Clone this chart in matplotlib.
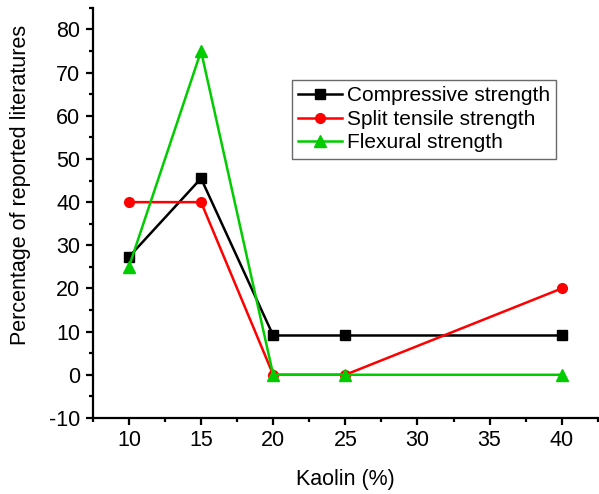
import matplotlib.pyplot as plt
from matplotlib.ticker import MultipleLocator

plt.rcParams['font.family'] = ['Liberation Sans', 'DejaVu Sans']
plt.rcParams['axes.unicode_minus'] = False

# Datos
kaolin = [10, 15, 20, 25, 40]
compresion = [27.3, 45.5, 9.1, 9.1, 9.1]
traccion = [40, 40, 0, 0, 20]
flexion = [25, 75, 0, 0, 0]

fig = plt.figure(figsize=(5.99, 4.94), dpi=100)
ax = fig.add_axes([0.155, 0.154, 0.843, 0.83])

ax.plot(kaolin, compresion, color='black', marker='s', markersize=6.5, lw=1.8, label='Compressive strength')
ax.plot(kaolin, traccion, color='#ff0000', marker='o', markersize=7, lw=1.8, label='Split tensile strength')
ax.plot(kaolin, flexion, color='#00cc00', marker='^', markersize=8.5, lw=1.8, label='Flexural strength')

ax.set_xlim(7.5, 42.5)
ax.set_ylim(-10, 85)
ax.xaxis.set_major_locator(MultipleLocator(5))
ax.xaxis.set_minor_locator(MultipleLocator(2.5))
ax.yaxis.set_major_locator(MultipleLocator(10))
ax.yaxis.set_minor_locator(MultipleLocator(5))

for s in ['top', 'right']:
    ax.spines[s].set_visible(False)
for s in ['left', 'bottom']:
    ax.spines[s].set_linewidth(1.6)
ax.tick_params(which='major', direction='out', length=5, width=1.6, labelsize=15.5, pad=4)
ax.tick_params(which='minor', direction='out', length=3, width=1.6)

ax.set_xlabel('Kaolin (%)', fontsize=15.5, labelpad=13)
ax.set_ylabel('Percentage of reported literatures', fontsize=15.5)
ax.yaxis.set_label_coords(-0.122, 0.568)

leg = ax.legend(loc='upper left', bbox_to_anchor=(0.394, 0.824), fontsize=15,
                frameon=True, fancybox=False, edgecolor='#444444',
                handlelength=2.1, handletextpad=0.25, borderpad=0.3, labelspacing=0.22,
                borderaxespad=0)
leg.get_frame().set_linewidth(1.0)

plt.savefig('out.png', dpi=100)
